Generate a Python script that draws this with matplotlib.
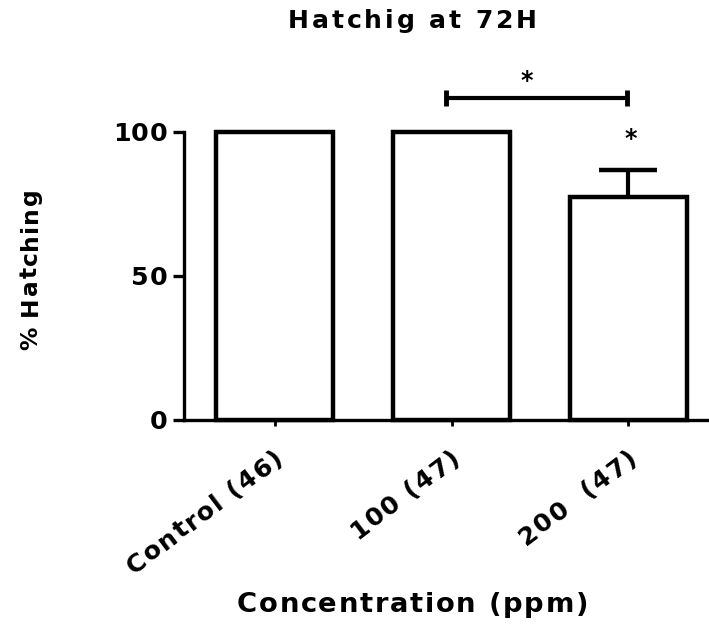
import numpy as np
import matplotlib
matplotlib.use('Agg')
import matplotlib.pyplot as plt
import matplotlib.transforms as mtransforms
from matplotlib.font_manager import FontProperties, findfont
from matplotlib.ft2font import FT2Font

# data
groups = ['Control (46)', '100 (47)', '200  (47)']
hatching = [100, 100, 77.3]
sem = [0, 0, 9.4]
yticks = [0, 50, 100]

title = 'Hatchig at 72H'
xlabel = 'Concentration (ppm)'
ylabel = '% Hatching'

DPI = 100
H = 624
FAMILY = 'DejaVu Sans'
ft = FT2Font(findfont(FontProperties(family=FAMILY, weight='bold')))
IDENT = mtransforms.IdentityTransform()

fig = plt.figure(figsize=(7.09, 6.24), dpi=DPI)


def bold(size):
    return FontProperties(family=FAMILY, weight='bold', size=size)


def advance(ch, size):
    ft.set_size(size, DPI)
    return ft.load_char(ord(ch)).linearHoriAdvance / 65536


def spaced(x, y, s, size, track=0, width=None, angle=0, ha='left'):
    # letter-spaced text; (x, y) is the baseline anchor in pixels, y counted down
    adv = [advance(c, size) for c in s]
    if width is not None:
        track = (width - sum(adv)) / (len(s) - 1)
    total = sum(adv) + track * (len(s) - 1)
    pos = {'left': 0, 'center': -total / 2, 'right': -total}[ha]
    dx, dy = np.cos(np.radians(angle)), np.sin(np.radians(angle))
    fp = bold(size)
    for c, a in zip(s, adv):
        if c != ' ':
            fig.text(x + pos * dx, (H - y) + pos * dy, c, fontproperties=fp,
                     rotation=angle, rotation_mode='anchor',
                     ha='left', va='baseline', transform=IDENT)
        pos += a + track


ax = fig.add_axes([0.2595, 0.3277, 0.7405, 0.4612])
x = np.arange(len(groups))
ax.bar(x, hatching, width=0.66, color='white', edgecolor='black',
       linewidth=3.2, clip_on=False, zorder=2)

idx = [i for i, s in enumerate(sem) if s > 0]
eb = ax.errorbar([x[i] for i in idx], [hatching[i] for i in idx],
                 yerr=[[0] * len(idx), [sem[i] for i in idx]], fmt='none',
                 ecolor='black', elinewidth=3, capsize=21, capthick=3.2, zorder=1)
eb[1][0].set_visible(False)

ax.set_xlim(-0.512, 2.455)
ax.set_ylim(0, 100)
ax.set_xticks(x)
ax.set_yticks(yticks)
ax.set_xticklabels([])
ax.set_yticklabels([])
for s in ['top', 'right']:
    ax.spines[s].set_visible(False)
for s in ['left', 'bottom']:
    ax.spines[s].set_linewidth(2.4)
ax.tick_params(axis='y', length=8, width=2.4, direction='out')
ax.tick_params(axis='x', length=4.5, width=2, direction='out')

# significance bracket between 100 and 200 ppm
bx1, bx2, by = 0.97, 1.99, 111.8
ax.hlines(by, bx1, bx2, color='black', linewidth=3, clip_on=False)
ax.vlines([bx1, bx2], by - 2.8, by + 2.8, color='black', linewidth=3.5, clip_on=False)
ax.text((bx1 + bx2) / 2 - 0.055, 115.3, '*', fontproperties=bold(17),
        ha='center', va='baseline', clip_on=False)
ax.text(x[2] + 0.01, 95.0, '*', fontproperties=bold(17),
        ha='center', va='baseline', clip_on=False)

# tick labels
for v in yticks:
    py = H - ax.transData.transform((0, v))[1]
    spaced(167, py + 9, str(v), 18.3, 0.5, ha='right')
for i, g in enumerate(groups):
    px = ax.transData.transform((x[i], 0))[0]
    spaced(px + 10, 461, g, 18.3, 1.5, angle=37, ha='right')

spaced(412.5, 28, title, 18.1, width=249, ha='center')
spaced(412.5, 612, xlabel, 19.7, width=351, ha='center')
spaced(37, 269, ylabel, 16.8, width=162, angle=90, ha='center')

fig.savefig('out.png', dpi=DPI)
